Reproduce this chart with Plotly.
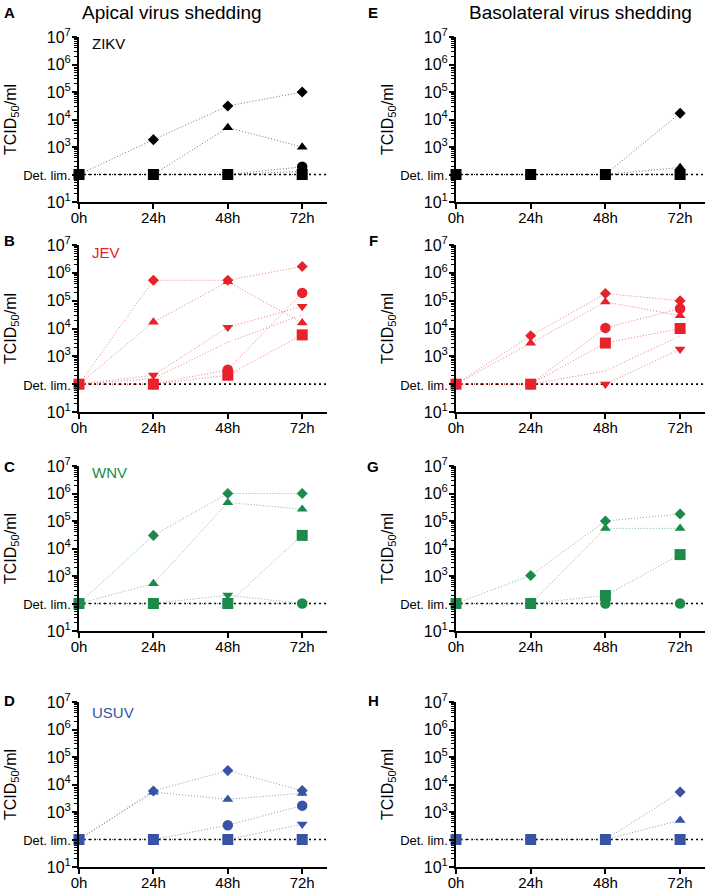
import plotly.graph_objects as go

# ---------------- data ----------------
TIMES = [0, 24, 48, 72]
TIME_LABELS = ["0h", "24h", "48h", "72h"]
DET_LIM = 100
Y_TICK_VALUES = [10, 100, 1e3, 1e4, 1e5, 1e6, 1e7]
Y_TICK_LABELS = ["10<sup>1</sup>", "<span style='font-size:13px'>Det. lim.</span>",
                 "10<sup>3</sup>", "10<sup>4</sup>", "10<sup>5</sup>",
                 "10<sup>6</sup>", "10<sup>7</sup>"]

ZIKV_APICAL = {
    "S1": [100, 1850, 31000, 100000],
    "S2": [100, 100, 5100, 1000],
    "S3": [100, 100, 100, 190],
    "S5": [100, 100, 100, 130],
    "S4": [100, 100, 100, 100],
}
ZIKV_BASO = {
    "S1": [100, 100, 100, 17000],
    "S2": [100, 100, 100, 180],
    "S3": [100, 100, 100, 100],
    "S4": [100, 100, 100, 100],
}
JEV_APICAL = {
    "S6": [100, 160, 3200, 31000],
    "S1": [100, 540000, 540000, 1700000],
    "S2": [100, 17000, 480000, 16000],
    "S3": [100, 100, 330, 190000],
    "S5": [100, 210, 11000, 62000],
    "S4": [100, 100, 210, 5900],
}
JEV_BASO = {
    "S6": [100, 100, 300, 5400],
    "S1": [100, 5500, 180000, 100000],
    "S2": [100, 3000, 90000, 29000],
    "S3": [100, 100, 10500, 52000],
    "S5": [100, 100, 100, 1800],
    "S4": [100, 100, 3000, 10000],
}
WNV_APICAL = {
    "S1": [100, 30000, 1000000, 1000000],
    "S2": [100, 530, 470000, 270000],
    "S3": [100, 100, 100, 100],
    "S5": [100, 100, 200, 100],
    "S4": [100, 100, 100, 30000],
}
WNV_BASO = {
    "S1": [100, 1050, 100000, 180000],
    "S2": [100, 100, 54000, 54000],
    "S3": [100, 100, 100, 100],
    "S4": [100, 100, 195, 6000],
}
USUV_APICAL = {
    "S1": [100, 5800, 32000, 6000],
    "S2": [100, 5300, 2900, 4800],
    "S3": [100, 100, 330, 1700],
    "S5": [100, 100, 100, 360],
    "S4": [100, 100, 100, 100],
}
USUV_BASO = {
    "S1": [100, 100, 100, 5300],
    "S2": [100, 100, 100, 500],
    "S4": [100, 100, 100, 100],
    "S3": [100, 100, 100, 100],
}

# ---------------- styles ----------------
SYMBOLS = {"S1": "diamond", "S2": "triangle-up", "S3": "circle",
           "S4": "square", "S5": "triangle-down", "S6": "circle-open"}
SIZES = {"S1": 8.5, "S2": 9.5, "S3": 10.5, "S4": 11, "S5": 9.5, "S6": 10}
VIRUS_COLORS = {"ZIKV": "#000000", "JEV": "#E8212A", "WNV": "#1B8A4A", "USUV": "#3953A4"}
LINE_COLORS = {"ZIKV": "rgba(0,0,0,0.55)", "JEV": "rgba(232,33,42,0.6)",
               "WNV": "rgba(27,138,74,0.6)", "USUV": "rgba(57,83,164,0.6)"}

FONT = "Arial, Liberation Sans, sans-serif"
W, H = 708, 891

# panels: (letter, virus, data, col, row)
PANELS = [
    ("A", "ZIKV", ZIKV_APICAL, 0, 0), ("B", "JEV", JEV_APICAL, 0, 1),
    ("C", "WNV", WNV_APICAL, 0, 2), ("D", "USUV", USUV_APICAL, 0, 3),
    ("E", "ZIKV", ZIKV_BASO, 1, 0), ("F", "JEV", JEV_BASO, 1, 1),
    ("G", "WNV", WNV_BASO, 1, 2), ("H", "USUV", USUV_BASO, 1, 3),
]
COL_X = [(79, 327), (456, 705)]          # pixel x extents of axes
ROW_Y = [(37, 202), (245, 412), (466, 631), (702, 867)]  # pixel top/bottom

fig = go.Figure()
annotations = []

for i, (letter, virus, data, col, row) in enumerate(PANELS):
    n = i + 1
    xa = "x" if n == 1 else f"x{n}"
    ya = "y" if n == 1 else f"y{n}"
    color = VIRUS_COLORS[virus]
    # detection limit line
    fig.add_trace(go.Scatter(x=[0, 80], y=[DET_LIM, DET_LIM], mode="lines",
                             line=dict(color="black", width=1.6, dash="2px,3px"),
                             xaxis=xa, yaxis=ya, showlegend=False, hoverinfo="skip"))
    for key, vals in data.items():
        sym = SYMBOLS[key]
        open_m = sym.endswith("open")
        fig.add_trace(go.Scatter(
            x=TIMES, y=vals, mode="lines+markers", cliponaxis=False,
            line=dict(color=LINE_COLORS[virus], width=1, dash="1px,2px"),
            marker=dict(symbol=sym, size=SIZES[key],
                        color="white" if open_m else color,
                        line=dict(color=color, width=1.2 if open_m else 0)),
            xaxis=xa, yaxis=ya, showlegend=False))
    x0, x1 = COL_X[col]
    top, bot = ROW_Y[row]
    fig.layout[f"xaxis{'' if n == 1 else n}"] = dict(
        domain=[x0 / W, x1 / W], range=[0, 80], anchor=ya, automargin=False,
        tickmode="array", tickvals=TIMES, ticktext=TIME_LABELS,
        ticks="outside", ticklen=5, tickwidth=1.5, tickcolor="black",
        ticklabelstandoff=-4,
        showline=True, linecolor="black", linewidth=2, showgrid=False, zeroline=False,
        tickfont=dict(family=FONT, size=15, color="black"))
    fig.layout[f"yaxis{'' if n == 1 else n}"] = dict(
        domain=[1 - bot / H, 1 - top / H], type="log", range=[1, 7], anchor=xa,
        automargin=False,
        tickmode="array", tickvals=Y_TICK_VALUES, ticktext=Y_TICK_LABELS,
        ticks="outside", ticklen=5, tickwidth=1.5, tickcolor="black",
        ticklabelstandoff=-2,
        minor=dict(dtick="D1", ticks="outside", ticklen=3, tickwidth=1,
                   tickcolor="black", showgrid=False),
        showline=True, linecolor="black", linewidth=2, showgrid=False, zeroline=False,
        tickfont=dict(family=FONT, size=16, color="black"),
        title=dict(text="TCID<sub>50</sub>/ml", font=dict(family=FONT, size=16, color="black"),
                   standoff=3))
    # panel letter
    lx = 9 if col == 0 else 373
    ly = [12, 240, 467, 700][row]
    annotations.append(dict(text=f"<b>{letter}</b>", x=lx / W, y=1 - ly / H, xref="paper",
                            yref="paper", xanchor="center", yanchor="middle", showarrow=False,
                            font=dict(family=FONT, size=15, color="black")))
    if col == 0:
        vy = [43, 253, 472, 712][row]
        annotations.append(dict(text=virus, x=90 / W, y=1 - vy / H, xref="paper", yref="paper",
                                xanchor="left", yanchor="middle", showarrow=False,
                                font=dict(family=FONT, size=15, color=color)))

annotations.append(dict(text="Apical virus shedding", x=172 / W, y=1 - 12 / H, xref="paper",
                        yref="paper", xanchor="center", yanchor="middle", showarrow=False,
                        font=dict(family=FONT, size=19, color="black")))
annotations.append(dict(text="Basolateral virus shedding", x=580 / W, y=1 - 12 / H, xref="paper",
                        yref="paper", xanchor="center", yanchor="middle", showarrow=False,
                        font=dict(family=FONT, size=19, color="black")))

fig.update_layout(width=W, height=H, margin=dict(l=0, r=0, t=0, b=0, autoexpand=False),
                  paper_bgcolor="white", plot_bgcolor="white",
                  annotations=annotations, showlegend=False,
                  font=dict(family=FONT, color="black"))

fig.write_html("out.html", config={"displayModeBar": False},
               post_script="document.body.style.margin='0px';document.body.style.overflow='hidden';")
